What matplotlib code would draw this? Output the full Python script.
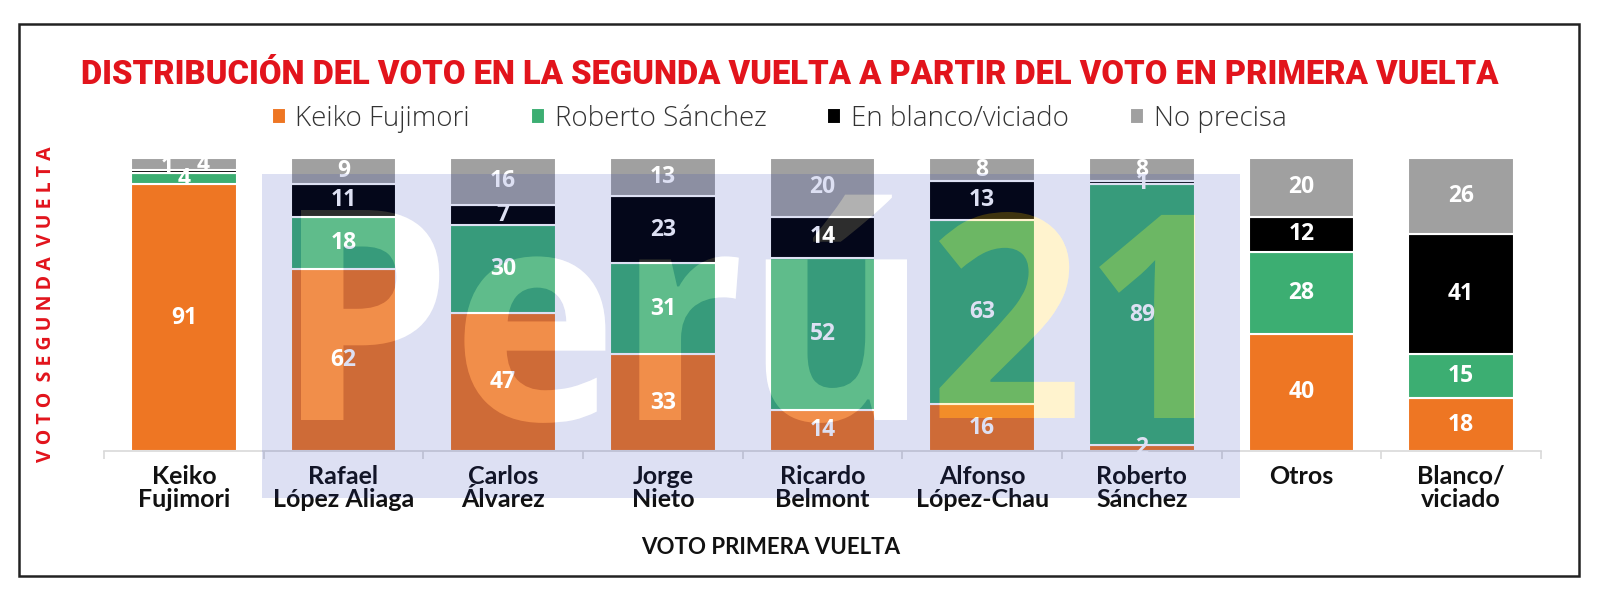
import numpy as np
import matplotlib
matplotlib.use("Agg")
import matplotlib.pyplot as plt
from matplotlib.patches import Rectangle, PathPatch
from matplotlib.path import Path
from matplotlib.textpath import TextPath
from matplotlib.font_manager import FontProperties
from matplotlib.transforms import Affine2D

# data
categories = ["Keiko\nFujimori", "Rafael\nLópez Aliaga", "Carlos\nÁlvarez", "Jorge\nNieto",
              "Ricardo\nBelmont", "Alfonso\nLópez-Chau", "Roberto\nSánchez", "Otros",
              "Blanco/\nviciado"]
keiko = [91, 62, 47, 33, 14, 16, 2, 40, 18]
sanchez = [4, 18, 30, 31, 52, 63, 89, 28, 15]
blanco = [1, 11, 7, 23, 14, 13, 1, 12, 41]
no_precisa = [4, 9, 16, 13, 20, 8, 8, 20, 26]
series_names = ["Keiko Fujimori", "Roberto Sánchez", "En blanco/viciado", "No precisa"]
colors = ["#EE7623", "#3CAE72", "#000000", "#A0A0A0"]
RED = "#E2141C"

W, H = 1600, 607
fig = plt.figure(figsize=(W / 100, H / 100), dpi=100)
ax = fig.add_axes([104 / W, 1 - 451 / H, 1437 / W, 293 / H])

x = np.arange(len(categories))
bottom = np.zeros(len(categories))
bars = []
# small labels on the Keiko bar are shifted sideways in the original
label_pos = {(0, 2): (-0.105, 96.8), (0, 3): (0.12, 97.6)}
for s, (vals, name, col) in enumerate(zip([keiko, sanchez, blanco, no_precisa],
                                          series_names, colors)):
    b = ax.bar(x, vals, 0.66, bottom=bottom, color=col, edgecolor="white",
               linewidth=1.5, label=name, zorder=2)
    bars.append(b)
    for i, v in enumerate(vals):
        dx, yy = 0, bottom[i] + v / 2
        if (i, s) in label_pos:
            dx, yy = label_pos[(i, s)]
        ax.text(i + dx, yy, str(v), ha="center", va="center", color="white",
                fontsize=16.5, fontweight="bold", family="Open Sans", zorder=3)
    bottom += np.array(vals)

ax.set_xlim(-0.5, 8.5)
ax.set_ylim(0, 100)
ax.set_yticks([])
for sp in ["left", "right", "top"]:
    ax.spines[sp].set_visible(False)
ax.spines["bottom"].set_color("#D9D9D9")
ax.spines["bottom"].set_linewidth(1.2)
ax.set_xticks(x)
ax.set_xticklabels(categories, fontsize=18, fontweight="bold", family="Lato",
                   linespacing=1.0, color="#111111")
ax.set_xticks(np.arange(-0.5, 9, 1), minor=True)
ax.tick_params(axis="x", which="major", length=0, pad=10)
ax.tick_params(axis="x", which="minor", length=6, color="#D9D9D9", width=1.2)

# titles
title = fig.text(790 / W, 1 - 75 / H,
                 "DISTRIBUCIÓN DEL VOTO EN LA SEGUNDA VUELTA A PARTIR DEL VOTO EN PRIMERA VUELTA",
                 ha="center", va="center", color=RED, fontsize=25, fontweight="heavy",
                 fontstretch="condensed",
                 family=["DejaVu Sans Condensed", "Roboto", "DejaVu Sans"])
fig.text(46 / W, 1 - 304 / H, "V O T O  S E G U N D A  V U E L T A", rotation=90,
         ha="center", va="center", color=RED, fontsize=14, fontweight="bold",
         family="Open Sans")
fig.text(771 / W, 1 - 547 / H, "VOTO PRIMERA VUELTA", ha="center", va="center",
         color="#111111", fontsize=16, fontweight="bold", family="Lato")

fig.legend(handles=bars, loc="center", bbox_to_anchor=(779 / W, 1 - 119 / H), ncol=4,
           frameon=False, prop=FontProperties(family="Open Sans", size=20, weight="light"),
           handlelength=0.5, handleheight=0.5, handletextpad=0.35, columnspacing=2.2,
           labelcolor="#333333")

# outer frame
fig.add_artist(Rectangle((19 / W, 1 - 576 / H), 1560 / W, 552 / H, fill=False,
                         edgecolor="#222222", linewidth=1.8, transform=fig.transFigure))

# watermark: translucent band with "Perú21" cut out of it
px = Affine2D().scale(1 / W, 1 / H) + fig.transFigure
wm_font = FontProperties(family="Open Sans", weight="bold")


def fitted_text(s, x0, x1, baseline, cap, ref):
    tp = TextPath((0, 0), s, size=100, prop=wm_font)
    ext = tp.get_extents()
    ref_h = TextPath((0, 0), ref, size=100, prop=wm_font).get_extents().y1
    tr = Affine2D().translate(-ext.x0, 0).scale((x1 - x0) / ext.width, cap / ref_h)
    tr = tr.translate(x0, H - baseline)
    return tr.transform_path(tp)


peru = fitted_text("Perú", 301, 907, 420, 210, "P")
num = fitted_text("21", 939, 1195, 418, 206, "21")


def signed_area(poly):
    xs, ys = poly[:, 0], poly[:, 1]
    return 0.5 * np.sum(xs * np.roll(ys, -1) - np.roll(xs, -1) * ys)


polys = peru.to_polygons() + num.to_polygons()
outer = max(polys, key=lambda p: abs(signed_area(p)))
rx0, rx1, ry0, ry1 = 262, 1240, H - 498, H - 174
corners = [(rx0, ry0), (rx1, ry0), (rx1, ry1), (rx0, ry1)]
if signed_area(outer) > 0:
    corners = corners[::-1]
rect = Path(corners + [corners[0]],
            [Path.MOVETO, Path.LINETO, Path.LINETO, Path.LINETO, Path.CLOSEPOLY])
band = Path.make_compound_path(rect, peru, num)
fig.add_artist(PathPatch(band, transform=px, facecolor="#1C30AF", alpha=0.15,
                         edgecolor="none", zorder=5))
fig.add_artist(PathPatch(peru, transform=px, facecolor="white", alpha=0.18,
                         edgecolor="none", zorder=6))
fig.add_artist(PathPatch(num, transform=px, facecolor="#FFD23C", alpha=0.25,
                         edgecolor="none", zorder=6))

# shrink the title until it spans the same width as in the original
fig.canvas.draw()
tw = title.get_window_extent().width
if tw > 1421:
    title.set_fontsize(25 * 1421 / tw)

fig.savefig("out.png", dpi=100, facecolor="white")
